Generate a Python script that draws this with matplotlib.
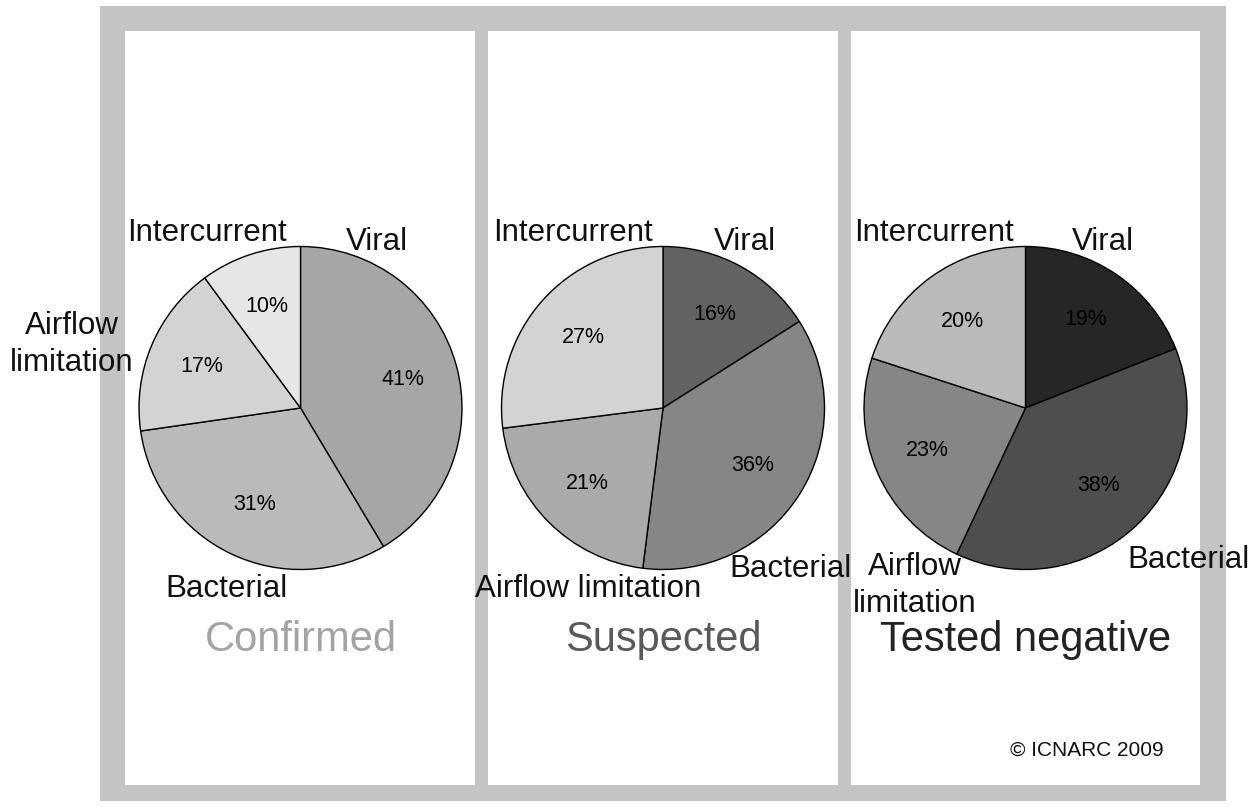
import matplotlib.pyplot as plt
from matplotlib.patches import Rectangle

plt.rcParams['font.family'] = ['Liberation Sans', 'DejaVu Sans']

# slices go clockwise from 12 o'clock: Viral, Bacterial, Airflow limitation, Intercurrent
causes = ['Viral', 'Bacterial', 'Airflow limitation', 'Intercurrent']
groups = ['Confirmed', 'Suspected', 'Tested negative']
confirmed = [41, 31, 17, 10]
suspected = [16, 36, 21, 27]
tested_negative = [19, 38, 23, 20]

H = 807  # figure height in px, positions below are measured from the top

shades = [
    ['#a6a6a6', '#bababa', '#d3d3d3', '#e6e6e6'],
    ['#626262', '#868686', '#aaaaaa', '#d3d3d3'],
    ['#262626', '#4e4e4e', '#868686', '#bababa'],
]
title_colors = ['#a3a3a3', '#595959', '#222222']
centers_x = [300.5, 663, 1025.5]
panels_x = [(125, 475), (488, 838), (851, 1200)]

# (text, x, baseline y of the last line) for the outer labels of each pie
label_pos = [
    [('Viral', 377, 250), ('Bacterial', 227, 597),
     ('Airflow\nlimitation', 72, 371), ('Intercurrent', 207, 241)],
    [('Viral', 745, 250), ('Bacterial', 791, 577),
     ('Airflow limitation', 588, 597), ('Intercurrent', 573, 241)],
    [('Viral', 1103, 250), ('Bacterial', 1188, 568),
     ('Airflow\nlimitation', 915, 612), ('Intercurrent', 934, 241)],
]

fig = plt.figure(figsize=(12.54, 8.07), dpi=100)
ax = fig.add_axes([0, 0, 1, 1])

# grey frame and white panels
ax.add_patch(Rectangle((100, H - 801), 1126, 795, facecolor='#c4c4c4',
                       edgecolor='none', zorder=0))
for x0, x1 in panels_x:
    ax.add_patch(Rectangle((x0, H - 785), x1 - x0, 754, facecolor='white',
                           edgecolor='none', zorder=0.5))

for i, vals in enumerate([confirmed, suspected, tested_negative]):
    ax.pie(vals, colors=shades[i], startangle=90, counterclock=False,
           center=(centers_x[i], H - 408), radius=161.5,
           autopct=lambda p: '%.0f%%' % p, pctdistance=0.66,
           wedgeprops=dict(edgecolor='black', linewidth=1.0),
           textprops=dict(fontsize=15.5, color='black'))
    for txt, x, y in label_pos[i]:
        ax.text(x, H - y, txt, ha='center', va='baseline', fontsize=22.5,
                color='#111111', linespacing=1.32)
    ax.text(centers_x[i], H - 651, groups[i], ha='center', va='baseline',
            fontsize=30, color=title_colors[i])

ax.text(1087, H - 756, '\u00a9 ICNARC 2009', ha='center', va='baseline',
        fontsize=15, color='#111111')

ax.set_xlim(0, 1254)
ax.set_ylim(0, H)
ax.set_aspect('auto')
ax.axis('off')

fig.savefig('out.png', dpi=100, facecolor='white')
